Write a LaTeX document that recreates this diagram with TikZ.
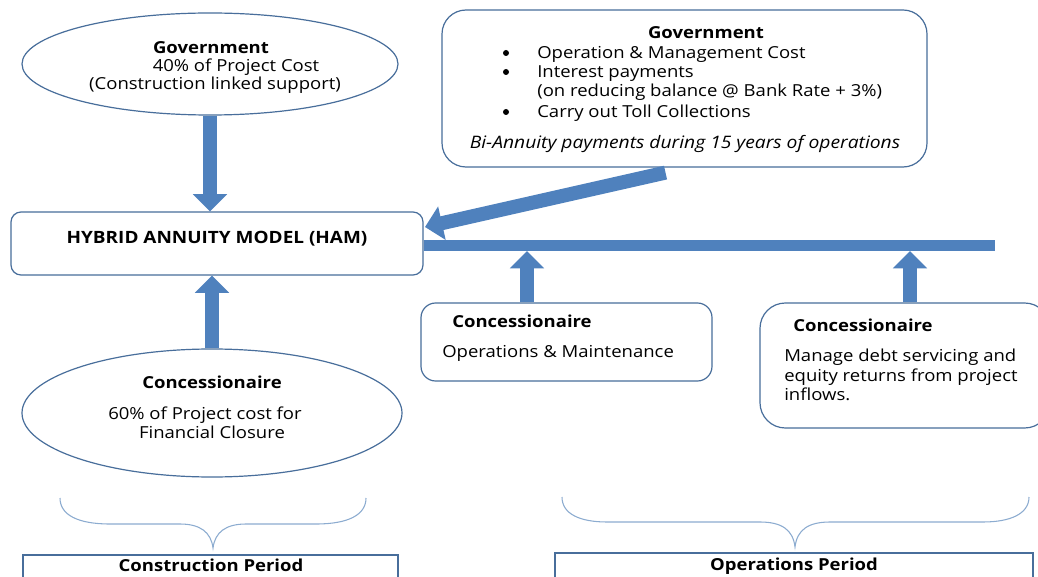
\documentclass[tikz,border=0pt]{standalone}
\usepackage{fontspec}
\setmainfont{Open Sans}[FakeStretch=1.12]
\usetikzlibrary{arrows.meta,shapes.geometric,fit,calc}
\definecolor{arrowblue}{RGB}{79,129,189}
\definecolor{edgeblue}{RGB}{72,110,155}
\definecolor{braceblue}{RGB}{140,172,208}
\begin{document}
\begin{tikzpicture}[x=0.75pt,y=-0.75pt,
 box/.style={draw=edgeblue,line width=0.9pt,inner sep=0pt},
 oval/.style={draw=edgeblue,line width=0.9pt,ellipse,inner sep=0pt},
 txt/.style={inner sep=0pt,yshift=-2.25pt,font=\fontsize{12.4}{14}\selectfont},
 txtb/.style={inner sep=0pt,yshift=-2.25pt,font=\fontsize{12.4}{14}\selectfont\bfseries},
 bul/.style={circle,fill=black,inner sep=0pt,minimum size=4.5pt},
 blockarrow/.style={draw=arrowblue,line width=10.5pt,-{Triangle[length=13pt,width=25pt]}},
 bar/.style={draw=arrowblue,line width=8.5pt},
 brace/.style={draw=braceblue,line width=0.8pt}]
\clip (0,0) rectangle (1038,577);
\fill[white] (0,0) rectangle (1038,577);
% top-left ellipse
\node[oval, minimum width=376*0.75pt, minimum height=102*0.75pt] (govA) at (210,64) {};
\node[txtb, anchor=mid] (govAt1) at (211,47) {Government};
\node[txt, anchor=mid] (govAt2) at (236,65) {40\% of Project Cost};
\node[txt, anchor=mid] (govAt3) at (215,83) {(Construction linked support)};
% HAM
\node[box, rounded corners=7.5pt, fit={(11,212) (423,275)}] (ham) {};
\node[inner sep=0pt, font=\fontsize{12.7}{15}\selectfont\bfseries, anchor=mid] (hamt) at (217,240) {HYBRID ANNUITY MODEL (HAM)};
% top-right government box
\node[box, rounded corners=18pt, fit={(442,10) (927,167)}] (govB) {};
\node[txtb, anchor=mid] (govBt) at (706,32) {Government};
\node[bul] (bul1) at (506,53) {};
\node[bul] (bul2) at (506,72) {};
\node[bul] (bul3) at (506,112) {};
\node[txt, anchor=mid west] (govB1) at (537,52) {Operation \& Management Cost};
\node[txt, anchor=mid west] (govB2) at (537,71) {Interest payments};
\node[txt, anchor=mid west] (govB3) at (537,90) {(on reducing balance @ Bank Rate + 3\%)};
\node[txt, anchor=mid west] (govB4) at (537,111) {Carry out Toll Collections};
\node[txt, anchor=mid, font=\fontsize{12.9}{14}\selectfont\itshape] (govB5) at (685,142) {Bi-Annuity payments during 15 years of operations};
% O&M box
\node[box, rounded corners=11pt, fit={(421,303) (712,381)}] (om) {};
\node[txtb, anchor=mid west] (omt1) at (452,321) {Concessionaire};
\node[txt, anchor=mid west] (omt2) at (442,351) {Operations \& Maintenance};
% debt box
\node[box, rounded corners=19pt, fit={(760,303) (1050,428)}] (debt) {};
\node[txtb, anchor=mid west] (debtt1) at (793,325) {Concessionaire};
\node[txt, anchor=mid west] (debtt2) at (784,355) {Manage debt servicing and};
\node[txt, anchor=mid west] (debtt3) at (784,375) {equity returns from project};
\node[txt, anchor=mid west] (debtt4) at (784,394) {inflows.};
% bottom ellipse
\node[oval, minimum width=380*0.75pt, minimum height=128*0.75pt] (concA) at (212,413) {};
\node[txtb, anchor=mid] (concAt1) at (212,382) {Concessionaire};
\node[txt, anchor=mid] (concAt2) at (205,413) {60\% of Project cost for};
\node[txt, anchor=mid] (concAt3) at (212,432) {Financial Closure};
% period boxes
\node[box, fit={(23,555) (398,600)}] (cons) {};
\node[txtb, anchor=mid] (const) at (211,565) {Construction Period};
\node[box, fit={(555,553) (1033,600)}] (ops) {};
\node[txtb, anchor=mid] (opst) at (794,564) {Operations Period};
% arrows
\coordinate (dend) at (425,227);
\coordinate (barend) at (995,245.5);
\coordinate (b1) at (527,251);
\coordinate (b2) at (910,251);
\draw[blockarrow] (govA.south) -- (govA.south |- ham.north);
\draw[blockarrow] (concA.north) -- (concA.north |- ham.south);
\draw[blockarrow] ($(govB.south)+(-19,5)$) -- (dend);
\draw[bar] (ham.east |- barend) -- (barend);
\draw[blockarrow] (om.north -| b1) -- (b1);
\draw[blockarrow] (debt.north -| b2) -- (b2);
% braces
\draw[brace] (60,498) .. controls (60,515) and (78,524) .. (110,524) -- (180,524) .. controls (200,524) and (211,532) .. (213,548) .. controls (215,532) and (226,524) .. (246,524) -- (316,524) .. controls (348,524) and (366,515) .. (366,498);
\draw[brace] (562,497) .. controls (562,514) and (580,522) .. (607,522) -- (760,522) .. controls (782,522) and (793,530) .. (795,547) .. controls (797,530) and (808,522) .. (830,522) -- (983,522) .. controls (1010,522) and (1029,514) .. (1029,497);
\end{tikzpicture}
\end{document}
